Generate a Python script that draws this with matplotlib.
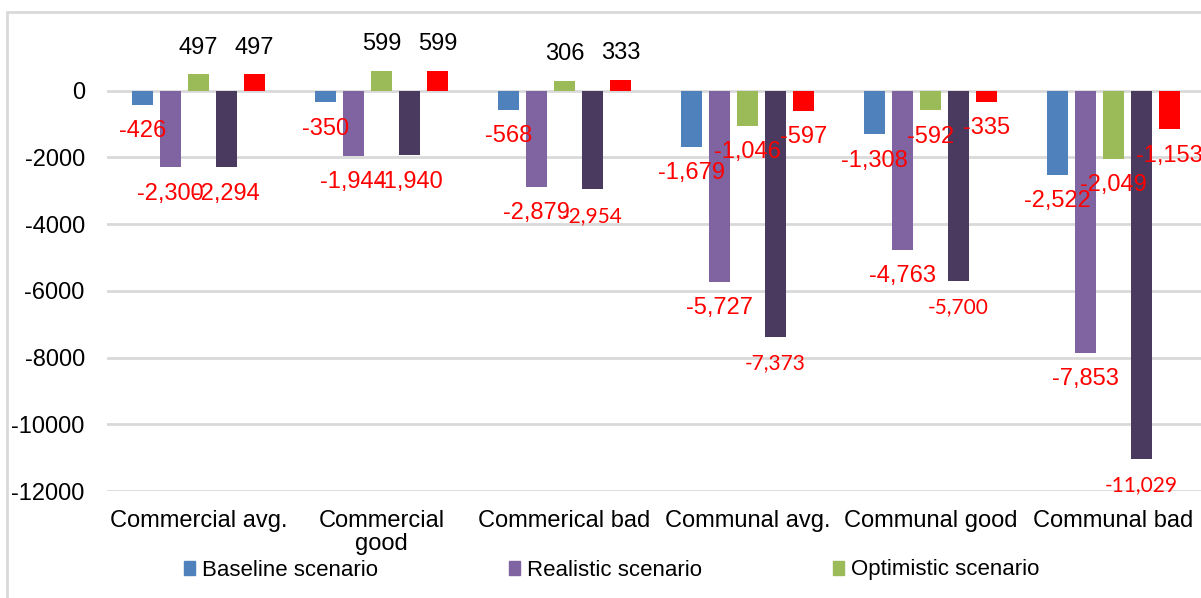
import matplotlib.pyplot as plt
import numpy as np
from matplotlib.patches import Rectangle, Patch

plt.rcParams['font.family'] = ['Liberation Sans', 'DejaVu Sans']

categorias = ['Commercial avg.', 'Commercial\ngood', 'Commerical bad',
              'Communal avg.', 'Communal good', 'Communal bad']

baseline = [-426, -350, -568, -1679, -1308, -2522]
realistic = [-2300, -1944, -2879, -5727, -4763, -7853]
optimistic = [497, 599, 306, -1046, -592, -2049]
serie4 = [-2294, -1940, -2954, -7373, -5700, -11029]
serie5 = [497, 599, 333, -597, -335, -1153]

series = [baseline, realistic, optimistic, serie4, serie5]
nombres = ['Baseline scenario', 'Realistic scenario', 'Optimistic scenario', None, None]
colores = ['#4F81BD', '#8064A2', '#9BBB59', '#4B3A60', '#FF0000']

yticks = [0, -2000, -4000, -6000, -8000, -10000, -12000]

fig = plt.figure(figsize=(12.01, 5.98), dpi=100)
W, H = 1201, 598
ax = fig.add_axes([107 / W, 1 - 491 / H, (1205 - 107) / W, (491 - 24) / H])

x = np.arange(len(categorias))
ancho = 0.12
paso = 0.153

for i, (vals, col) in enumerate(zip(series, colores)):
    pos = x + (i - 2) * paso
    ax.bar(pos, vals, ancho, color=col, zorder=3)
    for j, (p, v) in enumerate(zip(pos, vals)):
        if v >= 0:
            ax.annotate(f'{v:,}', (p, v), xytext=(0, 19), textcoords='offset points',
                        ha='center', va='center', fontsize=17, color='black', zorder=4)
        else:
            # las etiquetas de la serie oscura salen con otra fuente en el original
            if i == 3 and j >= 2:
                fam, fs = ['Lato', 'DejaVu Sans'], 15
            else:
                fam, fs = ['Liberation Sans', 'DejaVu Sans'], 17
            ax.annotate(f'{v:,}', (p, v), xytext=(0, -19), textcoords='offset points',
                        ha='center', va='center', fontsize=fs, color='red',
                        family=fam, zorder=4)

ax.set_xlim(-0.5, len(categorias) - 0.5)
ax.set_ylim(-12000, 2000)
ax.set_yticks(yticks)
ax.set_yticklabels([str(t) for t in yticks], fontsize=17)
ax.set_xticks(x)
ax.set_xticklabels(categorias, fontsize=17, linespacing=1.05)
ax.tick_params(axis='both', length=0)
ax.tick_params(axis='y', pad=16)
ax.tick_params(axis='x', pad=14)
ax.yaxis.grid(True, color='#D9D9D9', linewidth=2, zorder=0)
for s in ax.spines.values():
    s.set_visible(False)

# marco del grafico
fig.patches.append(Rectangle((7 / W, -0.1), 1.2, 1 - 12 / H + 0.1, transform=fig.transFigure,
                             fill=False, edgecolor='#D9D9D9', linewidth=2))

handles = [Patch(color=c, label=n) for c, n in zip(colores, nombres) if n]
fig.legend(handles=handles, loc='center left', bbox_to_anchor=(184 / W, 1 - 570 / H),
           ncol=3, frameon=False, fontsize=16, handlelength=0.5, handleheight=0.6,
           handletextpad=0.3, columnspacing=5.9, borderpad=0, borderaxespad=0)

fig.savefig('out.png', dpi=100)
